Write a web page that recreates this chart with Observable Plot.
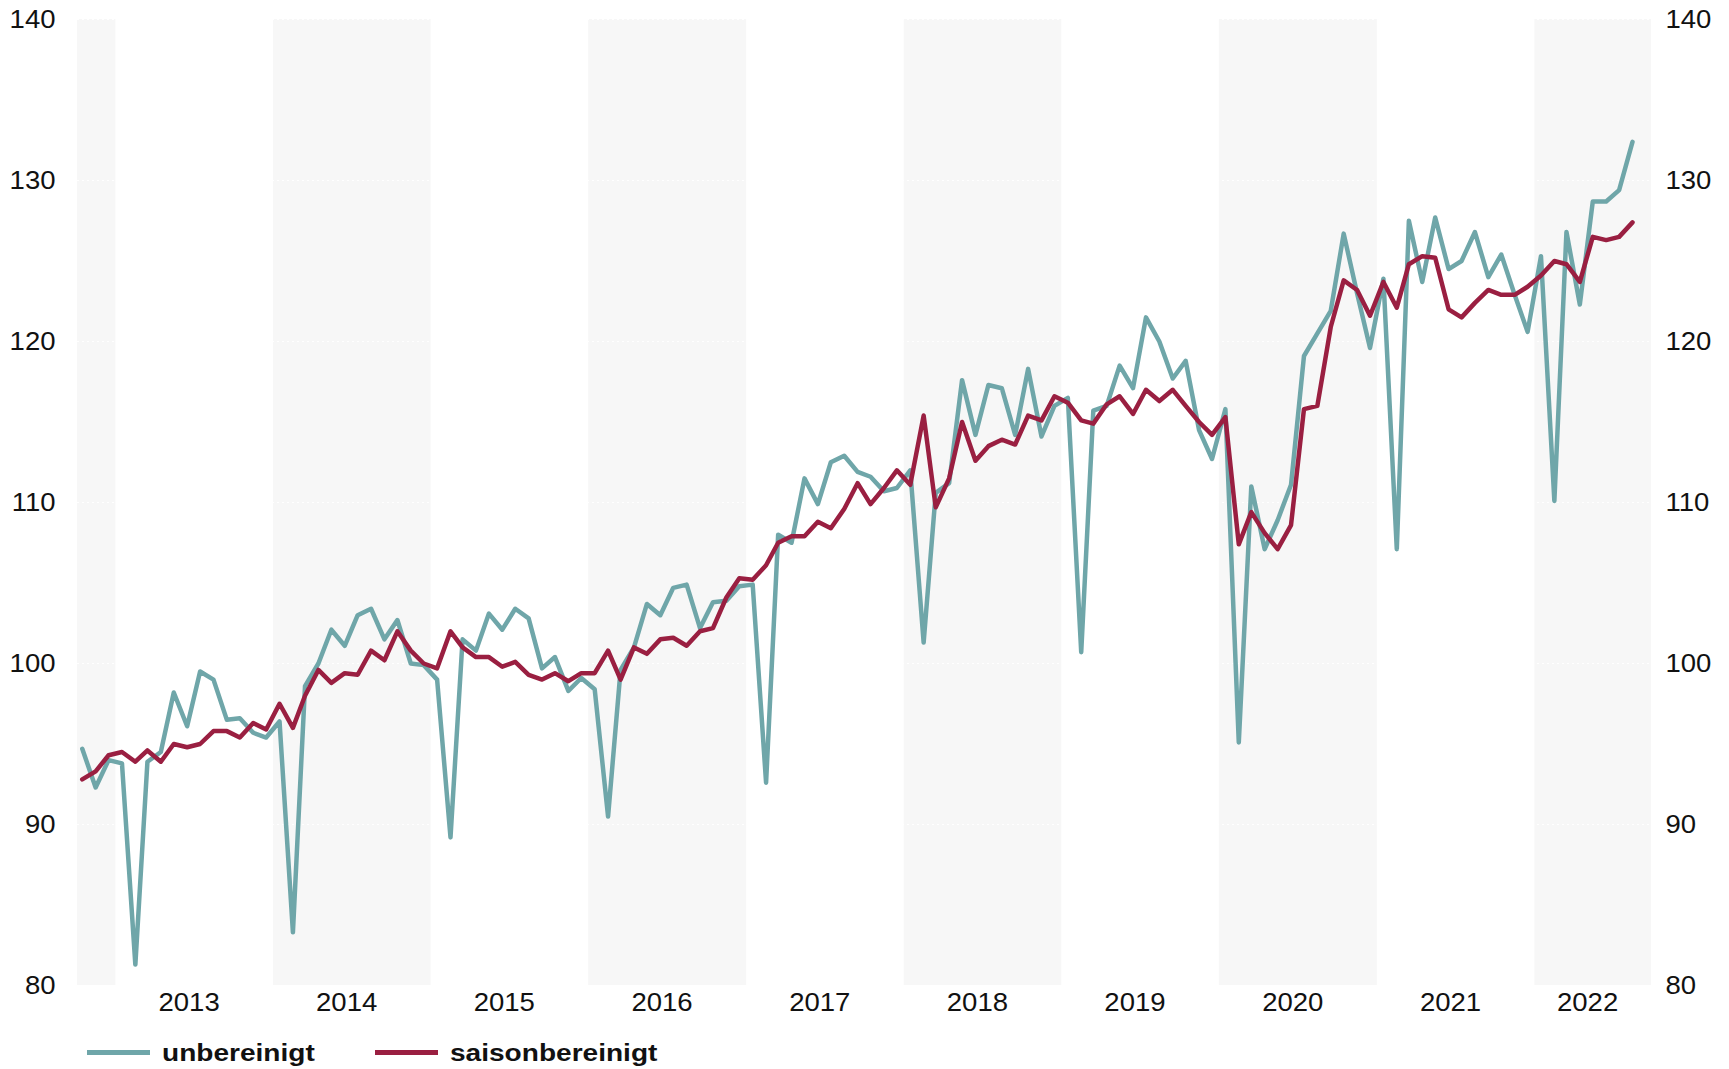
<!DOCTYPE html>
<html>
<head>
<meta charset="utf-8">
<script src="https://cdn.jsdelivr.net/npm/d3@7"></script>
<script src="https://cdn.jsdelivr.net/npm/@observablehq/plot@0.6"></script>
<style>
  body { margin: 0; background: #fff; font-family: "Liberation Sans", Arial, sans-serif; }
  #legend { position: relative; width: 1729px; height: 49px; }
  .sw { position: absolute; height: 5px; width: 63px; top: 30px; }
  .lt { position: absolute; top: 21px; line-height: 24px; font-size: 23px; font-weight: bold; color: #111; white-space: nowrap; transform: scaleX(1.22); transform-origin: 0 50%; }
</style>
</head>
<body>
<div id="chart"></div>
<div id="legend"></div>
<script>
// first observation: October 2012, monthly through August 2022
const firstYear = 2012, firstMonth = 9; // 0-based month (October)
const seriesNames = ["unbereinigt", "saisonbereinigt"];
const seriesColors = ["#6fa6a9", "#9a1f41"];

const unbereinigt = [
  94.7, 92.3, 94.0,                                                        // 2012 Oct-Dec
  93.8, 81.3, 93.9, 94.5, 98.2, 96.1, 99.5, 99.0, 96.5, 96.6, 95.7, 95.4,  // 2013
  96.4, 83.3, 98.6, 100.0, 102.1, 101.1, 103.0, 103.4, 101.5, 102.7, 100.0, 99.9, // 2014
  99.0, 89.2, 101.5, 100.8, 103.1, 102.1, 103.4, 102.8, 99.7, 100.4, 98.3, 99.1,  // 2015
  98.4, 90.5, 99.6, 101.0, 103.7, 103.0, 104.7, 104.9, 102.2, 103.8, 103.9, 104.8, // 2016
  104.9, 92.6, 108.0, 107.5, 111.5, 109.9, 112.5, 112.9, 111.9, 111.6, 110.7, 110.9, // 2017
  112.0, 101.3, 110.6, 111.2, 117.6, 114.2, 117.3, 117.1, 114.2, 118.3, 114.1, 116.0, // 2018
  116.5, 100.7, 115.7, 116.0, 118.5, 117.1, 121.5, 120.0, 117.7, 118.8, 114.5, 112.7, // 2019
  115.8, 95.1, 111.0, 107.1, 108.9, 111.1, 119.1, 120.5, 121.9, 126.7, 123.0, 119.6, // 2020
  123.9, 107.1, 127.5, 123.7, 127.7, 124.5, 125.0, 126.8, 124.0, 125.4, 122.9, 120.6, // 2021
  125.3, 110.1, 126.8, 122.3, 128.7, 128.7, 129.4, 132.4                   // 2022 Jan-Aug
];

const saisonbereinigt = [
  92.8, 93.3, 94.3,
  94.5, 93.9, 94.6, 93.9, 95.0, 94.8, 95.0, 95.8, 95.8, 95.4, 96.3, 95.9,
  97.5, 96.0, 98.0, 99.6, 98.8, 99.4, 99.3, 100.8, 100.2, 102.0, 100.8, 100.0,
  99.7, 102.0, 101.0, 100.4, 100.4, 99.8, 100.1, 99.3, 99.0, 99.4, 98.9, 99.4,
  99.4, 100.8, 99.0, 101.0, 100.6, 101.5, 101.6, 101.1, 102.0, 102.2, 104.1, 105.3,
  105.2, 106.1, 107.5, 107.9, 107.9, 108.8, 108.4, 109.6, 111.2, 109.9, 110.9, 112.0,
  111.1, 115.4, 109.7, 111.5, 115.0, 112.6, 113.5, 113.9, 113.6, 115.4, 115.1, 116.6,
  116.2, 115.1, 114.9, 116.1, 116.6, 115.5, 117.0, 116.3, 117.0, 116.0, 115.0, 114.2,
  115.3, 107.4, 109.4, 108.1, 107.1, 108.6, 115.8, 116.0, 120.9, 123.8, 123.2, 121.6,
  123.7, 122.1, 124.8, 125.3, 125.2, 122.0, 121.5, 122.4, 123.2, 122.9, 122.9, 123.4,
  124.1, 125.0, 124.8, 123.7, 126.5, 126.3, 126.5, 127.4
];

const yearLabels = [2013, 2014, 2015, 2016, 2017, 2018, 2019, 2020, 2021, 2022];
const shadedYears = [2012, 2014, 2016, 2018, 2020, 2022];
const yTicks = [80, 90, 100, 110, 120, 130, 140];

// build table
const monthDate = i => new Date(Date.UTC(firstYear, firstMonth + i, 15));
const rows = [];
[unbereinigt, saisonbereinigt].forEach((arr, s) => {
  arr.forEach((v, i) => rows.push({date: monthDate(i), value: v, series: seriesNames[s]}));
});

const xStart = new Date(Date.UTC(2012, 9, 4));
const xEnd = new Date(Date.UTC(2022, 8, 28));
const DAY = 864e5;
const visibleYear = y => [Math.max(+xStart, Date.UTC(y, 0, 1)), Math.min(+xEnd, Date.UTC(y + 1, 0, 1))];
const bands = shadedYears.map(y => {
  const [a, b] = visibleYear(y);
  return {start: new Date(a), end: new Date(b)};
});
// year labels sit near the middle of the visible part of each year
const labelDates = yearLabels.map(y => {
  const [a, b] = visibleYear(y);
  return new Date((a + b) / 2 - 13 * DAY);
});

const chart = Plot.plot({
  width: 1729,
  height: 1020,
  marginLeft: 77,
  marginRight: 78,
  marginTop: 19,
  marginBottom: 35,
  style: {fontFamily: "'Liberation Sans', Arial, sans-serif", fontSize: "25px", color: "#111", background: "#fff", overflow: "visible"},
  x: {type: "utc", domain: [xStart, xEnd]},
  y: {domain: [80, 140]},
  color: {domain: seriesNames, range: seriesColors},
  marks: [
    Plot.rect(bands, {x1: "start", x2: "end", fill: "#f7f7f7"}),
    Plot.gridY(yTicks, {stroke: "#fff", strokeOpacity: 1, strokeDasharray: "2,3"}),
    Plot.line(rows, {x: "date", y: "value", z: "series", stroke: "series", strokeWidth: 4.5}),
    Plot.axisY({anchor: "left", ticks: yTicks, tickSize: 0, tickPadding: 22, label: null, fontSize: 25}),
    Plot.axisY({anchor: "right", ticks: yTicks, tickSize: 0, tickPadding: 14, label: null, fontSize: 25}),
    Plot.axisX({ticks: labelDates, tickFormat: d => String(yearLabels[labelDates.findIndex(t => +t === +d)]), tickSize: 0, tickPadding: 8, label: null, fontSize: 25})
  ]
});
document.getElementById("chart").appendChild(chart);

// the reference lettering is slightly wider than the font: stretch glyphs horizontally
chart.querySelectorAll("text").forEach(t => {
  const w = t.getComputedTextLength();
  if (w > 0) {
    t.setAttribute("textLength", (w * 1.1).toFixed(1));
    t.setAttribute("lengthAdjust", "spacingAndGlyphs");
  }
});

// legend
const legend = document.getElementById("legend");
const legendX = [87, 375];
seriesNames.forEach((name, i) => {
  const sw = document.createElement("div");
  sw.className = "sw";
  sw.style.left = legendX[i] + "px";
  sw.style.background = seriesColors[i];
  legend.appendChild(sw);
  const t = document.createElement("div");
  t.className = "lt";
  t.style.left = (legendX[i] + 75) + "px";
  t.textContent = name;
  legend.appendChild(t);
});
</script>
</body>
</html>
